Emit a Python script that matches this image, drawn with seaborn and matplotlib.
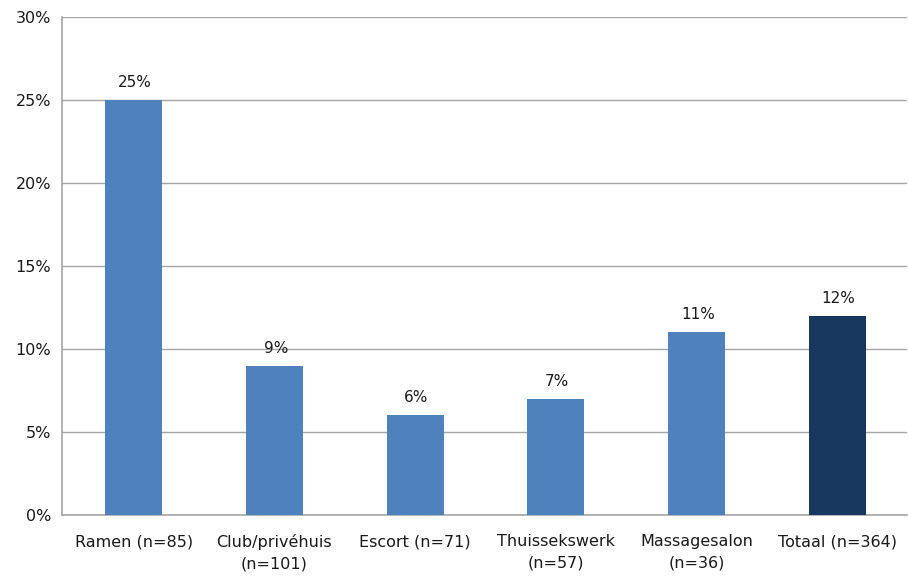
import numpy as np
import matplotlib
matplotlib.use("Agg")
import matplotlib.pyplot as plt
import pandas as pd
import seaborn as sns

sns.set_style("white")
plt.rcParams['font.family'] = ['DejaVu Sans']

# Data
categories = ['Ramen (n=85)', 'Club/privéhuis\n(n=101)', 'Escort (n=71)',
              'Thuissekswerk\n(n=57)', 'Massagesalon\n(n=36)', 'Totaal (n=364)']
percentages = [25, 9, 6, 7, 11, 12]
group = ['type', 'type', 'type', 'type', 'type', 'totaal']

bar_colors = {'type': '#4F81BD', 'totaal': '#17375E'}
grid_color = '#A6A6A6'

df = pd.DataFrame({'Categorie': categories, 'Percentage': percentages, 'Groep': group})

fig = plt.figure(figsize=(9.08, 5.78), dpi=100)
ax = fig.add_axes([0.0683, 0.109, 0.931, 0.8616])

sns.barplot(data=df, x='Categorie', y='Percentage', hue='Groep', palette=bar_colors,
            width=0.405, dodge=False, legend=False, saturation=1, linewidth=0,
            ax=ax, zorder=3)

# Value labels above bars
for i, v in enumerate(percentages):
    ax.text(i + 0.01, v + 0.6, f'{v}%', ha='center', va='bottom', fontsize=11, color='#1a1a1a')

ax.set_ylim(0, 30)
ax.set_xlim(-0.51, len(categories) - 0.5)
ax.set_yticks(np.arange(0, 31, 5))
ax.set_yticklabels([f'{t}%' for t in range(0, 31, 5)])
ax.yaxis.grid(True, color=grid_color, linewidth=1, zorder=0)
ax.set_axisbelow(True)

# Tick marks between categories on the x axis
ax.set_xticks(np.arange(-0.5, len(categories), 1), minor=True)
ax.tick_params(axis='x', which='major', length=0, pad=14, labelsize=11.5, colors='#1a1a1a')
ax.tick_params(axis='x', which='minor', length=5, color=grid_color, width=1, direction='out')
ax.tick_params(axis='y', length=5, color=grid_color, width=1, labelsize=11.5, colors='#1a1a1a',
               direction='out', pad=3)
for lbl in ax.get_xticklabels():
    lbl.set_linespacing(1.5)
ax.set_xlabel('')
ax.set_ylabel('')

for side in ['top', 'right']:
    ax.spines[side].set_visible(False)
for side in ['left', 'bottom']:
    ax.spines[side].set_color(grid_color)
    ax.spines[side].set_linewidth(1.2)

fig.savefig('out.png', dpi=100)
